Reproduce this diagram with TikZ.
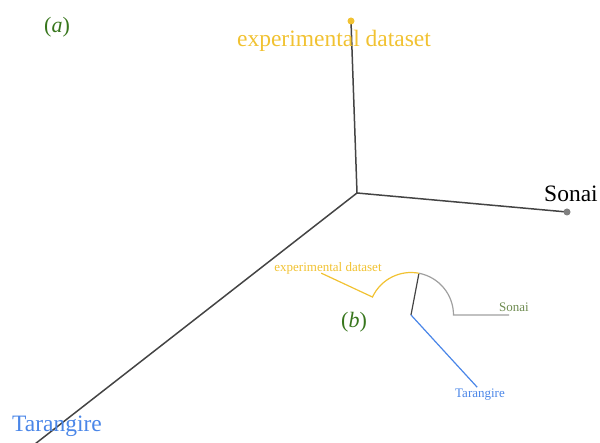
\documentclass[tikz,border=0pt]{standalone}
\usepackage{fontspec}
\setmainfont{Liberation Serif}
\usepackage{xcolor}
\usepackage{tikz}
\usetikzlibrary{positioning,calc,backgrounds}
\definecolor{amarillo}{HTML}{F1C232}
\definecolor{azul}{HTML}{4A86E8}
\definecolor{verde}{HTML}{38761D}
\definecolor{verdegris}{HTML}{6E8B50}
\definecolor{oscuro}{HTML}{444444}
\definecolor{claro}{HTML}{A0A0A0}
\tikzset{
  rama/.style      = {draw=oscuro, line width=1.5pt},
  ramita/.style    = {line width=1.2pt},
  punto/.style     = {circle, inner sep=0pt, minimum size=7pt},
  etiqueta/.style  = {inner sep=0pt, font=\fontsize{23.5}{28}\selectfont},
  chica/.style     = {inner sep=0pt, font=\fontsize{13}{15}\selectfont},
  panel/.style     = {inner sep=0pt, text=verde, font=\fontsize{22}{26}\selectfont}
}

\begin{document}
\begin{tikzpicture}[x=1pt, y=-1pt]
    \useasboundingbox (0,0) rectangle (600,443);

    % (a) arbol sin raiz
    \coordinate (centro) at (357,193);
    \node[punto, fill=amarillo] (pexp) at (351,21) {};
    \node[punto, fill=gray] (pson) at (567,212) {};
    \coordinate (ptar) at (35,444);

    \begin{scope}[on background layer]
      \draw[rama] (centro) -- (pexp.center);
      \draw[rama] (centro) -- (pson.center);
      \draw[rama] (centro) -- (ptar);
    \end{scope}

    \node[etiqueta, text=amarillo] (lexp) at (334,41) {experimental dataset};
    \node[etiqueta] (lson) at (571,194) {Sonai};
    \node[etiqueta, text=azul] (ltar) at (57,426) {Tarangire};
    \node[panel] (pa) at (57,27) {(\textit{a})};

    % (b) arbol con raiz
    \coordinate (raiz) at (411,315);
    \coordinate (nodo) at ($(raiz)+(79.2:42.5pt)$);
    \coordinate (bexp) at ($(raiz)+(155:42.5pt)$);
    \coordinate (bson) at ($(raiz)+(0:42.5pt)$);
    \coordinate (hexp) at ($(raiz)+(155:99pt)$);
    \coordinate (hson) at ($(raiz)+(0:98pt)$);
    \coordinate (htar) at ($(raiz)+(-47.5:98pt)$);

    \draw[ramita, draw=oscuro] (raiz) -- (nodo);
    \draw[ramita, draw=amarillo] (nodo) arc[start angle=79.2, end angle=155, radius=42.5pt] -- (hexp);
    \draw[ramita, draw=claro] (nodo) arc[start angle=79.2, end angle=0, radius=42.5pt] -- (hson);
    \draw[ramita, draw=azul] (raiz) -- (htar);

    \node[chica, text=amarillo] (cexp) at (328,268) {experimental dataset};
    \node[chica, text=verdegris] (cson) at (514,307) {Sonai};
    \node[chica, text=azul] (ctar) at (480,395) {Tarangire};
    \node[panel] (pb) at (354,322) {(\textit{b})};
  \end{tikzpicture}
\end{document}
